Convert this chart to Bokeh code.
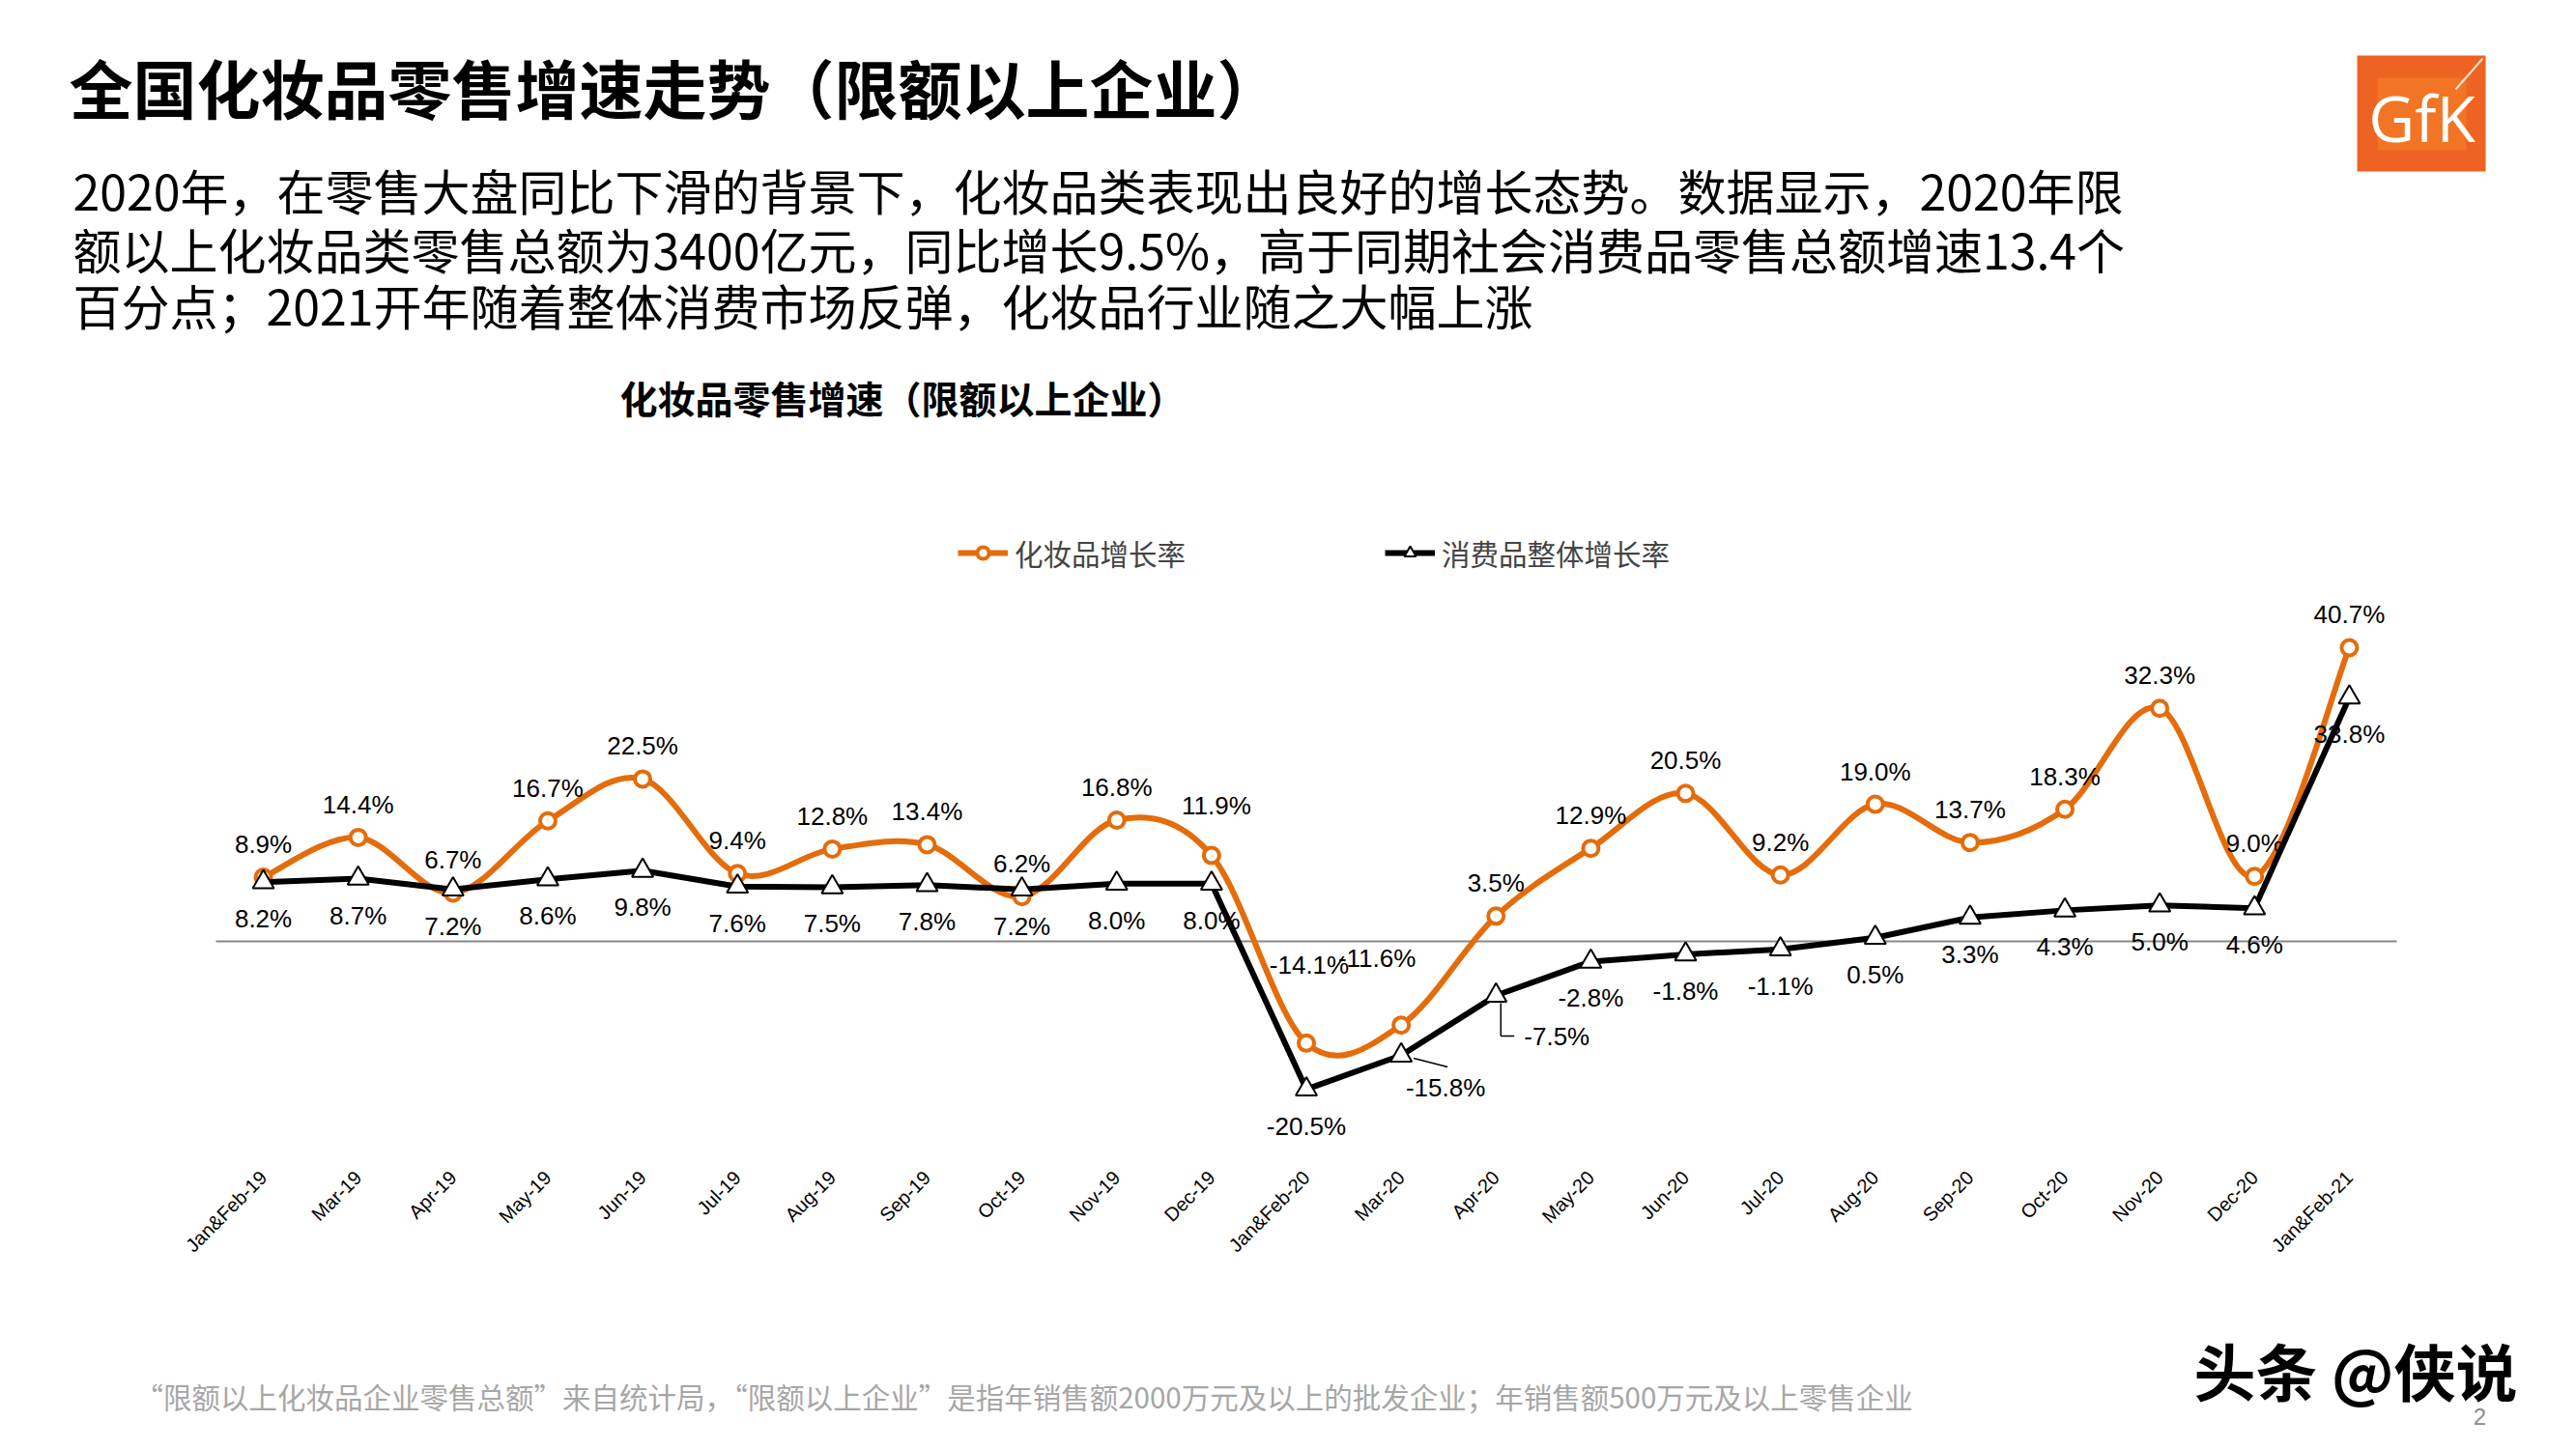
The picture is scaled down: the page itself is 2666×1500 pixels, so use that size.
import math
from bokeh.plotting import figure
from bokeh.layouts import column
from bokeh.models import (ColumnDataSource, Legend, LegendItem, FixedTicker, Range1d)
from bokeh.embed import file_html
from bokeh.resources import INLINE
from bokeh.core.properties import value

# ---------------- data ----------------
categories = ["Jan&Feb-19", "Mar-19", "Apr-19", "May-19", "Jun-19", "Jul-19", "Aug-19",
              "Sep-19", "Oct-19", "Nov-19", "Dec-19", "Jan&Feb-20", "Mar-20", "Apr-20",
              "May-20", "Jun-20", "Jul-20", "Aug-20", "Sep-20", "Oct-20", "Nov-20",
              "Dec-20", "Jan&Feb-21"]
cosmetics = [8.9, 14.4, 6.7, 16.7, 22.5, 9.4, 12.8, 13.4, 6.2, 16.8, 11.9, -14.1, -11.6,
             3.5, 12.9, 20.5, 9.2, 19.0, 13.7, 18.3, 32.3, 9.0, 40.7]
overall = [8.2, 8.7, 7.2, 8.6, 9.8, 7.6, 7.5, 7.8, 7.2, 8.0, 8.0, -20.5, -15.8,
           -7.5, -2.8, -1.8, -1.1, 0.5, 3.3, 4.3, 5.0, 4.6, 33.8]
series_names = ["化妆品增长率", "消费品整体增长率"]

title_text = "全国化妆品零售增速走势（限额以上企业）"
para_lines = [
    "2020年，在零售大盘同比下滑的背景下，化妆品类表现出良好的增长态势。数据显示，2020年限",
    "额以上化妆品类零售总额为3400亿元，同比增长9.5%，高于同期社会消费品零售总额增速13.4个",
    "百分点；2021开年随着整体消费市场反弹，化妆品行业随之大幅上涨",
]
chart_title = "化妆品零售增速（限额以上企业）"
footnote = "“限额以上化妆品企业零售总额”来自统计局，“限额以上企业”是指年销售额2000万元及以上的批发企业；年销售额500万元及以上零售企业"
watermark = "头条 @侠说"
page_no = "2"
logo_text = "GfK"

# ---------------- layout / style ----------------
ORANGE = "#E46C0A"
CJK = "Noto Sans CJK SC"
LAT = "Liberation Sans"
W, H = 2650, 1484
FL, FR, FT, FB = 223, 2480, 540, 1195      # plot-area edges in page pixels
CHART_BOTTOM = 1330                        # page y where the footer panel begins
ZERO_Y, PX_PER_PCT = 974, 7.47
ymax = (ZERO_Y - FT) / PX_PER_PCT
ymin = -(FB - ZERO_Y) / PX_PER_PCT
n = len(categories)
PX_PER_CAT = (FR - FL) / n

# label offsets in pixels (style, not data)
c_dx = [0] * n
c_dy = [-34] * n
c_dx[10], c_dy[10] = 5, -52
c_dx[11], c_dy[11] = 3, -81
c_dx[12], c_dy[12] = -25, -69
o_dx = [0] * n
o_dy = [38] * n
o_dx[12], o_dy[12] = 46, 33
o_dx[13], o_dy[13] = 63, 42


def blank_fig(y0, y1):
    f = figure(width=W, height=y1 - y0, output_backend="svg", toolbar_location=None,
               x_range=Range1d(0, W), y_range=Range1d(y1, y0), title=None,
               x_axis_location=None, y_axis_location=None, min_border=0,
               min_border_left=0, min_border_right=0, min_border_top=0, min_border_bottom=0)
    f.outline_line_color = None
    f.grid.visible = False
    f.background_fill_color = "white"
    f.border_fill_color = "white"
    return f


def put_text(f, X, Y, text, size, color="black", bold=False, font=CJK, align="left"):
    f.text(x=[X], y=[Y], text=[text], text_font=value(font), text_font_size=f"{size}px",
           text_color=color, text_font_style="bold" if bold else "normal",
           text_align=align, text_baseline="middle")


# ---------------- header ----------------
head = blank_fig(0, FT)
put_text(head, 71, 88, title_text, 66, bold=True)
for k, line in enumerate(para_lines):
    put_text(head, 75, [195, 256, 314][k], line, 50)
put_text(head, 641, 410, chart_title, 39, bold=True)
head.quad(left=[2439], right=[2572], top=[57], bottom=[177], fill_color="#EF6322",
          line_color=None)
head.quad(left=[2460], right=[2552], top=[80], bottom=[155], fill_color="#F7922A",
          fill_alpha=0.4, line_color=None)
head.segment(x0=[2569], y0=[60], x1=[2541], y1=[92], line_color="white", line_width=2,
             line_alpha=0.8)
put_text(head, 2506, 120, logo_text, 66, color="white", font="Open Sans", align="center")

# ---------------- chart ----------------
p = figure(width=W, height=CHART_BOTTOM - FT, output_backend="svg", toolbar_location=None,
           x_range=Range1d(-0.5 - FL / PX_PER_CAT, n - 0.5 + (W - FR) / PX_PER_CAT),
           y_range=Range1d(ymin, ymax), title=None,
           min_border_left=0, min_border_right=0,
           min_border_top=0, min_border_bottom=CHART_BOTTOM - FB,
           y_axis_location=None)
p.outline_line_color = None
p.grid.visible = False
p.background_fill_color = "white"
p.border_fill_color = "white"

ax = p.xaxis[0]
ax.ticker = FixedTicker(ticks=list(range(n)))
ax.major_label_overrides = {i: c for i, c in enumerate(categories)}
ax.major_label_orientation = math.pi / 4
ax.axis_line_color = None
ax.major_tick_line_color = None
ax.minor_tick_line_color = None
ax.major_label_text_font = LAT
ax.major_label_text_font_size = "20px"
ax.major_label_text_color = "black"
ax.major_label_standoff = 14

# zero line across the plot area
p.segment(x0=[-0.5], y0=[0], x1=[n - 0.5], y1=[0], line_color="#898989", line_width=2)

xs = list(range(n))
# smoothed cosmetics curve (Catmull-Rom style bezier through the data points)
bx0, by0, bx1, by1, cx0, cy0, cx1, cy1 = [], [], [], [], [], [], [], []
for i in range(n - 1):
    im, ip = max(i - 1, 0), min(i + 2, n - 1)
    bx0.append(i); by0.append(cosmetics[i])
    bx1.append(i + 1); by1.append(cosmetics[i + 1])
    cx0.append(i + (i + 1 - im) / 6); cy0.append(cosmetics[i] + (cosmetics[i + 1] - cosmetics[im]) / 6)
    cx1.append(i + 1 - (ip - i) / 6); cy1.append(cosmetics[i + 1] - (cosmetics[ip] - cosmetics[i]) / 6)
bez = p.bezier(x0=bx0, y0=by0, x1=bx1, y1=by1, cx0=cx0, cy0=cy0, cx1=cx1, cy1=cy1,
               line_color=ORANGE, line_width=6)
circ = p.scatter(xs, cosmetics, marker="circle", size=16, fill_color="white",
                 line_color=ORANGE, line_width=4)
bl = p.line(xs, overall, line_color="black", line_width=6)
tri = p.scatter(xs, overall, marker="triangle", size=22, fill_color="white",
                line_color="black", line_width=2)

# leader lines for two shifted labels
lead_x = [12 + 13 / PX_PER_CAT, 13 + 5 / PX_PER_CAT, 13 + 5 / PX_PER_CAT]
lead_y = [overall[12] - 3 / PX_PER_PCT, overall[13] - 8 / PX_PER_PCT, overall[13] - 42 / PX_PER_PCT]
lead_x1 = [12 + 48 / PX_PER_CAT, 13 + 5 / PX_PER_CAT, 13 + 19 / PX_PER_CAT]
lead_y1 = [overall[12] - 12 / PX_PER_PCT, overall[13] - 42 / PX_PER_PCT, overall[13] - 42 / PX_PER_PCT]
p.segment(lead_x, lead_y, lead_x1, lead_y1, line_color="black", line_width=1.5)

csrc = ColumnDataSource(dict(x=xs, y=cosmetics, t=[f"{v:.1f}%" for v in cosmetics], dx=c_dx, dy=c_dy))
osrc = ColumnDataSource(dict(x=xs, y=overall, t=[f"{v:.1f}%" for v in overall], dx=o_dx, dy=o_dy))
for src in (csrc, osrc):
    p.text(x="x", y="y", text="t", x_offset="dx", y_offset="dy", source=src,
           text_font=value(LAT), text_font_size="26px", text_color="black",
           text_align="center", text_baseline="middle")

legend = Legend(items=[LegendItem(label=value(series_names[0]), renderers=[bez, circ]),
                       LegendItem(label=value(series_names[1]), renderers=[bl, tri])],
                location=(991, (FB - FT) - 53), orientation="horizontal",
                label_text_font=CJK, label_text_font_size="29.5px",
                border_line_color=None, background_fill_alpha=0,
                spacing=206, glyph_width=52, glyph_height=30, label_standoff=7,
                padding=0, margin=0)
p.add_layout(legend)

# ---------------- footer ----------------
foot = blank_fig(CHART_BOTTOM, H)
put_text(foot, 139, 1444, footnote, 29.5, color="#A6A6A6")
put_text(foot, 2270, 1416, watermark, 64, bold=True)
put_text(foot, 2566, 1466, page_no, 24, color="#8C8C8C", font=LAT, align="center")

layout = column(head, p, foot, spacing=0)
open("out.html", "w").write(file_html(layout, INLINE))
